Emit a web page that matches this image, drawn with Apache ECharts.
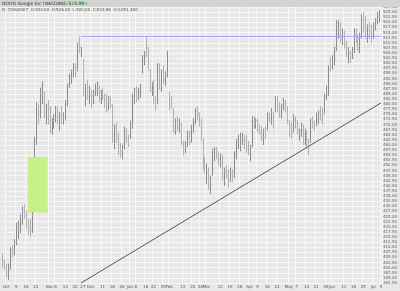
<!DOCTYPE html>
<html><head><meta charset="utf-8">
<script src="https://cdn.jsdelivr.net/npm/echarts@6/dist/echarts.min.js"></script>
<style>html,body{margin:0;padding:0;background:#e8e8e8}#c{width:400px;height:291px}</style>
</head><body><div id="c"></div>
<script>
const dates = ['09/28','09/29',
'10/02','10/03','10/04','10/05','10/06','10/09','10/10','10/11','10/12','10/13','10/16','10/17','10/18','10/19','10/20','10/23','10/24','10/25','10/26','10/27','10/30','10/31',
'11/01','11/02','11/03','11/06','11/07','11/08','11/09','11/10','11/13','11/14','11/15','11/16','11/17','11/20','11/21','11/22','11/24','11/27','11/28','11/29','11/30',
'12/01','12/04','12/05','12/06','12/07','12/08','12/11','12/12','12/13','12/14','12/15','12/18','12/19','12/20','12/21','12/22','12/26','12/27','12/28','12/29',
'01/03','01/04','01/05','01/08','01/09','01/10','01/11','01/12','01/16','01/17','01/18','01/19','01/22','01/23','01/24','01/25','01/26','01/29','01/30','01/31',
'02/01','02/02','02/05','02/06','02/07','02/08','02/09','02/12','02/13','02/14','02/15','02/16','02/20','02/21','02/22','02/23','02/26','02/27','02/28',
'03/01','03/02','03/05','03/06','03/07','03/08','03/09','03/12','03/13','03/14','03/15','03/16','03/19','03/20','03/21','03/22','03/23','03/26','03/27','03/28','03/29','03/30',
'04/02','04/03','04/04','04/05','04/09','04/10','04/11','04/12','04/13','04/16','04/17','04/18','04/19','04/20','04/23','04/24','04/25','04/26','04/27','04/30',
'05/01','05/02','05/03','05/04','05/07','05/08','05/09','05/10','05/11','05/14','05/15','05/16','05/17','05/18','05/21','05/22','05/23','05/24','05/25','05/29','05/30','05/31',
'06/01','06/04','06/05','06/06','06/07','06/08','06/11','06/12','06/13','06/14','06/15','06/18','06/19','06/20','06/21','06/22','06/25','06/26','06/27','06/28','06/29',
'07/02','07/03','07/05','07/06','07/09'];

const opens  = [404,403, 401,397,400,409,408,413,420,420,424,428,425,421,420,419,456,462,476,475,485,484,472,479,
478,467,472,473,478,470,476,473,474,481,489,493,495,498,497,510,505,500,481,490,485,
485,483,485,487,488,482,485,484,482,480,483,479,461,469,464,457,457,460,467,463,
467,470,483,488,484,485,497,501,505,504,496,487,491,481,481,498,490,496,493,495,
485,482,477,468,472,469,470,461,459,460,466,462,468,471,477,475,471,459,451,
444,447,437,446,456,458,456,452,452,443,447,446,444,446,446,455,461,460,464,463,463,461,
458,460,472,471,472,468,466,464,467,468,474,472,474,478,482,480,478,479,480,478,
472,469,467,473,471,466,466,468,462,465,462,462,472,471,470,472,476,475,476,485,485,500,
499,500,508,517,516,514,514,508,505,505,505,506,514,512,509,513,521,519,512,517,516,
515,519,522,523];
const highs  = [407,404, 402,402,410,411,414,422,423,426,430,431,428,424,424,427,464,481,480,488,491,486,480,482,
479,473,475,479,479,476,479,476,482,490,495,497,500,500,510,513,508,502,490,492,489,
487,487,490,491,489,487,488,485,485,484,484,480,470,471,466,461,460,469,468,465,
472,485,488,489,488,490,504,506,513,508,497,491,492,484,500,500,497,499,496,506,
486,484,478,473,474,473,471,462,462,467,467,470,473,478,479,476,473,463,454,
451,449,445,458,459,459,457,456,455,449,450,448,449,448,457,463,465,466,466,465,465,462,
460,474,474,473,473,470,469,468,469,476,476,478,476,484,484,481,480,483,482,479,
472,471,475,474,472,468,471,470,468,467,463,473,474,472,476,477,479,478,485,489,499,503,
504,508,521,521,520,517,516,511,508,506,508,517,517,514,515,524,525,523,519,520,519,
520,522,525,526];
const lows   = [400,399, 395,394,399,405,406,411,414,417,421,424,419,416,415,417,454,460,470,473,480,473,470,470,
466,465,468,471,470,467,470,470,472,479,488,490,493,493,496,505,503,484,479,482,480,
478,480,484,484,481,480,482,478,476,477,478,461,458,461,455,454,453,458,461,459,
463,468,480,481,482,483,495,499,503,497,486,484,480,477,480,487,486,490,489,493,
477,478,466,465,467,466,460,455,456,459,460,461,466,470,472,469,462,448,446,
441,438,436,445,452,453,450,449,443,440,444,439,442,442,444,453,458,457,460,458,456,455,
452,459,468,468,466,465,462,460,463,467,471,470,468,476,476,473,473,477,476,470,
464,463,466,468,465,462,464,460,460,458,455,461,468,467,469,470,472,470,475,482,484,496,
497,499,506,512,510,509,507,503,500,500,502,505,510,506,505,512,515,512,510,512,510,
512,516,519,520];
const closes = [403,401, 397,400,409,407,412,420,421,423,428,426,421,419,418,426,460,479,473,486,486,475,477,476,
468,470,472,477,472,475,473,474,481,489,492,496,499,495,509,508,505,485,489,484,485,
481,485,487,489,483,484,484,482,479,482,480,463,469,463,456,456,458,468,463,460,
468,483,487,484,486,489,500,505,504,497,488,490,481,479,499,488,496,492,494,502,
482,481,467,471,470,471,462,458,459,466,461,470,472,476,476,471,465,449,449,
448,439,441,457,456,455,453,455,443,448,446,441,447,445,457,462,462,465,464,462,461,458,
459,473,471,472,468,467,465,467,466,474,473,476,472,482,479,478,478,481,479,471,
469,466,473,471,467,467,469,461,467,462,458,473,471,470,470,476,474,474,484,487,499,498,
500,507,519,518,513,515,509,505,506,503,506,515,512,508,514,522,518,515,518,516,514,
519,521,524,524];

const yTicks = {min: 392.5, max: 527.5, step: 2.5};
const tickLabels = {
 '10/02':'Oct','10/09':'9','10/16':'16','10/23':'23','11/01':'Nov','11/06':'6','11/13':'13','11/20':'20','11/27':'27',
 '12/01':'Dec','12/11':'11','12/18':'18','12/26':'26','01/03':'Jan','01/08':'8','01/16':'16','01/22':'22','01/29':'29',
 '02/01':'Feb','02/12':'12','02/20':'20','02/26':'26','03/01':'Mar','03/12':'12','03/19':'19','03/26':'26',
 '04/02':'Apr','04/09':'9','04/16':'16','04/23':'23','05/01':'May','05/07':'7','05/14':'14','05/21':'21','05/29':'29',
 '06/01':'Jun','06/11':'11','06/18':'18','06/25':'25','07/02':'Jul','07/09':'9'};
const monthStarts = ['10/02','11/01','12/01','01/03','02/01','03/01','04/02','05/01','06/01','07/02'];
const gapBox = {from:'10/17', to:'10/31', low:427, high:454};
const resistance = {from:'11/24', to:'07/09', value:513};
const trendLine = [['11/24', 392.5], ['07/09', 480.6]];
const header1 = 'GOOG Google Inc (NASDAQ)  523.98';
const header1b = '16.87  3.33%';
const header2 = 'D: 7/06/2007  O:523.00  H:526.00  L:520.00  C:523.98  V:3,051,400';

const ohlc = dates.slice(0, opens.length).map((d, i) => [i, opens[i], closes[i], lows[i], highs[i]]);

const chart = echarts.init(document.getElementById('c'), null, {renderer: 'canvas'});
const isTick = (i) => tickLabels[dates[i]] !== undefined;

chart.setOption({
  animation: false,
  backgroundColor: '#e8e8e8',
  grid: {left: 0, right: 13, top: 7, bottom: 8, show: true, backgroundColor: '#e8e8e8', borderWidth: 0},
  graphic: [
    {type: 'rect', left: 0, top: 0, shape: {width: 400, height: 7}, style: {fill: '#d4d4d4'}, z: 100},
    {type: 'text', left: 2, top: 1, style: {text: header1, font: '4.5px "DejaVu Sans"', fill: '#333'}, z: 101},
    {type: 'text', left: 58, top: 1, style: {text: header1b, font: '4.5px "DejaVu Sans"', fill: '#3cb83c'}, z: 101},
    {type: 'text', left: 2, top: 7.5, style: {text: header2, font: '4px "DejaVu Sans"', fill: '#555'}, z: 101}
  ],
  xAxis: {
    type: 'category', data: dates, boundaryGap: true,
    axisLine: {show: false}, axisTick: {show: false},
    axisLabel: {interval: (i) => isTick(i), formatter: (v) => tickLabels[v] || '', fontSize: 4, color: '#555', margin: 2, fontFamily: 'DejaVu Sans'},
    splitLine: {show: true, interval: (i) => isTick(i), lineStyle: {color: '#f8f8f8', width: 1}}
  },
  yAxis: {
    type: 'value', position: 'right', min: yTicks.min, max: yTicks.max, interval: yTicks.step,
    axisLine: {show: false}, axisTick: {show: false},
    axisLabel: {fontSize: 4, color: '#666', margin: 1, formatter: (v) => v.toFixed(2), fontFamily: 'DejaVu Sans'},
    splitLine: {show: true, lineStyle: {color: '#f6f6f6', width: 1}}
  },
  series: [{
    type: 'custom',
    data: ohlc,
    encode: {x: 0, y: [1, 2, 3, 4]},
    renderItem: function (params, api) {
      const i = api.value(0);
      const o = api.value(1), c = api.value(2), l = api.value(3), h = api.value(4);
      const ph = api.coord([i, h]), pl = api.coord([i, l]);
      const po = api.coord([i, o]), pc = api.coord([i, c]);
      const x = Math.round(ph[0]) + 0.5;
      const col = c >= o ? '#8a8a8a' : '#b0b0b0';
      const st = {stroke: col, lineWidth: 1};
      return {type: 'group', children: [
        {type: 'line', shape: {x1: x, y1: ph[1], x2: x, y2: pl[1]}, style: st},
        {type: 'line', shape: {x1: x - 1, y1: Math.round(po[1]) + 0.5, x2: x, y2: Math.round(po[1]) + 0.5}, style: {stroke: '#c4c4c4', lineWidth: 1}},
        {type: 'line', shape: {x1: x, y1: Math.round(pc[1]) + 0.5, x2: x + 1, y2: Math.round(pc[1]) + 0.5}, style: {stroke: '#c4c4c4', lineWidth: 1}}
      ]};
    },
    markArea: {silent: true, itemStyle: {color: '#c8f08a'}, data: [[{xAxis: gapBox.from, yAxis: gapBox.high}, {xAxis: gapBox.to, yAxis: gapBox.low}]]},
    markLine: {silent: true, symbol: 'none', label: {show: false}, data: [
      [{coord: [resistance.from, resistance.value], lineStyle: {color: '#a4a4ff', width: 1, type: 'solid'}}, {coord: [resistance.to, resistance.value]}],
      [{coord: trendLine[0], lineStyle: {color: '#555', width: 1, type: 'solid'}}, {coord: trendLine[1]}]
    ]}
  }]
});
</script></body></html>
